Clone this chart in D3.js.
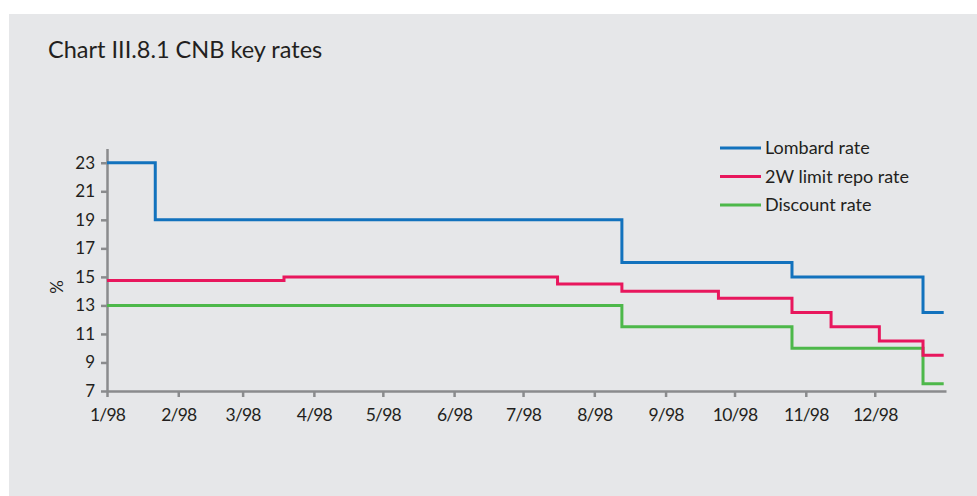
<!DOCTYPE html>
<html>
<head>
<meta charset="utf-8">
<script src="https://cdn.jsdelivr.net/npm/d3@7"></script>
<style>
  body { margin: 0; background: #ffffff; }
  svg text { font-family: "Lato", "Open Sans", sans-serif; fill: #231f20; }
</style>
</head>
<body>
<div id="my_dataviz"></div>
<script>
// change dates and values (step series)
var lombardDates = ["1998-01-01", "1998-01-22", "1998-08-13", "1998-10-26", "1998-12-22", "1998-12-31"];
var lombardValues = [23, 19, 16, 15, 12.5, 12.5];

var repoDates = ["1998-01-01", "1998-03-19", "1998-07-16", "1998-08-13", "1998-09-24", "1998-10-26", "1998-11-12", "1998-12-03", "1998-12-22", "1998-12-31"];
var repoValues = [14.75, 15, 14.5, 14, 13.5, 12.5, 11.5, 10.5, 9.5, 9.5];

var discountDates = ["1998-01-01", "1998-08-13", "1998-10-26", "1998-12-22", "1998-12-31"];
var discountValues = [13, 11.5, 10, 7.5, 7.5];

var seriesNames = ["Lombard rate", "2W limit repo rate", "Discount rate"];
var seriesColors = ["#1272bd", "#e8175d", "#4db84a"];

var monthLabels = ["1/98", "2/98", "3/98", "4/98", "5/98", "6/98", "7/98", "8/98", "9/98", "10/98", "11/98", "12/98"];
var yTicks = [7, 9, 11, 13, 15, 17, 19, 21, 23];

var W = 977, H = 496;
var parse = d3.timeParse("%Y-%m-%d");

var svg = d3.select("#my_dataviz")
  .append("svg")
    .attr("width", W)
    .attr("height", H);

// grey panel
svg.append("rect")
  .attr("x", 9).attr("y", 14)
  .attr("width", W - 9).attr("height", H - 14)
  .attr("fill", "#e6e7e9");

svg.append("text")
  .attr("x", 48).attr("y", 58)
  .style("font-size", "23.5px")
  .text("Chart III.8.1 CNB key rates");

var x = d3.scaleTime()
  .domain([new Date(1998, 0, 1), new Date(1999, 0, 1)])
  .range([107, 946]);

var y = d3.scaleLinear()
  .domain([7, 24])
  .range([391, 148.5]);

// axes
var xAxis = svg.append("g")
  .attr("transform", "translate(0,391)")
  .call(d3.axisBottom(x)
    .tickValues(d3.range(12).map(function(m){ return new Date(1998, m, 1) }))
    .tickFormat(function(d, i){ return monthLabels[i] })
    .tickSize(6).tickSizeOuter(0).tickPadding(12));

var yAxis = svg.append("g")
  .attr("transform", "translate(107,0)")
  .call(d3.axisLeft(y)
    .tickValues(yTicks)
    .tickSize(6).tickSizeOuter(0).tickPadding(6));

[xAxis, yAxis].forEach(function(a){
  a.select(".domain").attr("stroke", "#8a8b8d").attr("stroke-width", 2.5);
  a.selectAll(".tick line").attr("stroke", "#8a8b8d").attr("stroke-width", 2.5);
  a.selectAll("text").attr("fill", "#231f20");
});
xAxis.selectAll("text")
  .style("font-size", "17.5px")
  .style("letter-spacing", "-0.8px");
yAxis.selectAll("text").style("font-size", "17px");

svg.append("text")
  .attr("transform", "translate(63,287) rotate(-90)")
  .attr("text-anchor", "middle")
  .style("font-size", "17px")
  .text("%");

var dataReady = [
  {name: seriesNames[0], dates: lombardDates, values: lombardValues},
  {name: seriesNames[1], dates: repoDates, values: repoValues},
  {name: seriesNames[2], dates: discountDates, values: discountValues}
].map(function(s, i){
  var pts = s.dates.map(function(d, j){ return {date: parse(d), value: s.values[j]} });
  return {name: s.name, color: seriesColors[i], values: pts};
});

var line = d3.line()
  .curve(d3.curveStepAfter)
  .x(function(d){ return x(d.date) })
  .y(function(d){ return y(d.value) });

svg.selectAll("myLines")
  .data(dataReady.slice().reverse())
  .enter()
  .append("path")
    .attr("d", function(d){ return line(d.values) })
    .attr("stroke", function(d){ return d.color })
    .attr("stroke-width", 3)
    .attr("fill", "none");

// legend
var legend = svg.selectAll("myLegend")
  .data(dataReady)
  .enter()
  .append("g")
    .attr("transform", function(d, i){ return "translate(720," + (148 + i * 28.5) + ")" });
legend.append("line")
  .attr("x1", 0).attr("x2", 41)
  .attr("stroke", function(d){ return d.color })
  .attr("stroke-width", 3);
legend.append("text")
  .attr("x", 45).attr("dy", "0.35em")
  .style("font-size", "18px")
  .text(function(d){ return d.name });
</script>
</body>
</html>
